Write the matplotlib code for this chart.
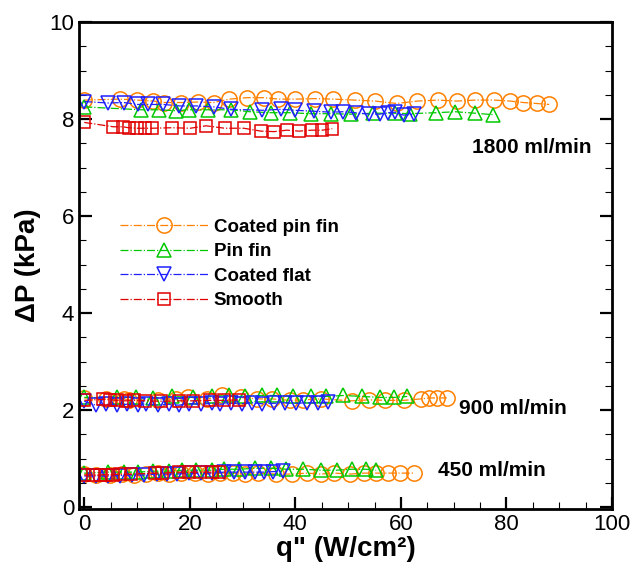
import matplotlib
matplotlib.use("Agg")
import matplotlib.pyplot as plt
from matplotlib.ticker import MultipleLocator

plt.rcParams['font.family'] = ['Liberation Sans', 'DejaVu Sans']

# ---------------- data ----------------
# 1800 ml/min
cpf_1800_x = [0, 6.8, 10.0, 13.1, 15.2, 18.4, 21.5, 24.5, 27.5, 30.8, 34.0, 36.8, 40.0, 43.8, 47.2,
              51.3, 55.1, 59.2, 63.1, 67.1, 70.6, 74.0, 77.7, 80.7, 83.2, 85.7, 88.1]
cpf_1800_y = [8.39, 8.41, 8.39, 8.37, 8.34, 8.34, 8.35, 8.34, 8.41, 8.44, 8.44, 8.41, 8.41, 8.42, 8.41,
              8.39, 8.37, 8.32, 8.37, 8.39, 8.37, 8.39, 8.39, 8.37, 8.34, 8.32, 8.30]
pf_1800_x = [0, 10.8, 14.1, 17.4, 19.9, 23.5, 27.8, 31.4, 35.3, 38.9, 42.9, 46.8, 50.5, 54.8, 58.9,
             61.7, 66.7, 70.3, 74.0, 77.4]
pf_1800_y = [8.25, 8.19, 8.19, 8.17, 8.19, 8.19, 8.19, 8.15, 8.13, 8.13, 8.11, 8.11, 8.10, 8.12, 8.12,
             8.11, 8.13, 8.15, 8.12, 8.09]
cf_1800_x = [0, 4.5, 7.5, 10.1, 12.1, 15.0, 18.0, 21.2, 24.5, 27.8, 33.7, 37.3, 39.9, 43.5, 46.8,
             49.1, 51.4, 54.0, 56.0, 57.6, 58.9, 60.5, 62.4]
cf_1800_y = [8.36, 8.33, 8.34, 8.30, 8.30, 8.30, 8.27, 8.27, 8.25, 8.20, 8.18, 8.20, 8.18, 8.16, 8.14,
             8.15, 8.13, 8.10, 8.10, 8.13, 8.14, 8.08, 8.10]
sm_1800_x = [0, 5.5, 7.3, 8.4, 10.0, 11.6, 12.9, 16.6, 20.1, 23.1, 26.6, 30.2, 33.5, 36.0, 38.4,
             40.7, 43.1, 45.1, 47.0]
sm_1800_y = [7.93, 7.84, 7.84, 7.82, 7.81, 7.81, 7.81, 7.82, 7.81, 7.86, 7.81, 7.81, 7.75, 7.74, 7.77,
             7.75, 7.77, 7.77, 7.80]

# 900 ml/min
cpf_900_x = [0, 4.2, 7.5, 8.4, 14.0, 17.3, 19.6, 23.2, 26.1, 29.7, 32.7, 35.6, 38.9, 41.5, 44.8,
             50.7, 54.0, 56.9, 60.5, 63.8, 65.4, 66.8, 68.7]
cpf_900_y = [2.25, 2.23, 2.23, 2.21, 2.21, 2.23, 2.27, 2.22, 2.32, 2.26, 2.23, 2.23, 2.20, 2.21, 2.23,
             2.19, 2.21, 2.20, 2.20, 2.23, 2.25, 2.25, 2.25]
pf_900_x = [0, 6.2, 9.8, 13.1, 16.7, 20.6, 24.2, 27.5, 30.4, 33.7, 36.6, 39.6, 42.9, 45.8, 49.1,
            52.7, 56.0, 58.6, 61.2]
pf_900_y = [2.26, 2.26, 2.26, 2.25, 2.28, 2.26, 2.28, 2.30, 2.28, 2.30, 2.30, 2.28, 2.28, 2.28, 2.30,
            2.28, 2.26, 2.26, 2.28]
cf_900_x = [0, 2.2, 4.2, 6.2, 8.1, 10.1, 11.7, 14.0, 16.0, 17.9, 19.9, 22.2, 24.2, 25.8, 27.8,
            29.8, 31.7, 33.7, 36.0, 38.0, 40.2, 42.2, 44.2, 46.1]
cf_900_y = [2.18, 2.10, 2.12, 2.10, 2.12, 2.10, 2.13, 2.10, 2.12, 2.10, 2.13, 2.12, 2.14, 2.12, 2.14,
            2.13, 2.15, 2.13, 2.14, 2.15, 2.14, 2.15, 2.15, 2.16]
sm_900_x = [0, 3.6, 4.9, 6.2, 7.9, 9.5, 11.5, 14.6, 17.9, 20.6, 23.9, 26.5, 29.4]
sm_900_y = [2.20, 2.22, 2.21, 2.20, 2.19, 2.20, 2.19, 2.18, 2.19, 2.19, 2.20, 2.20, 2.21]

# 450 ml/min
cpf_450_x = [0, 2.2, 4.9, 7.1, 9.4, 11.7, 14.0, 16.0, 18.3, 20.9, 23.5, 25.8, 28.1, 30.4, 33.0,
             36.3, 39.3, 42.2, 44.8, 47.4, 50.4, 53.0, 55.3, 57.6, 59.9, 62.5]
cpf_450_y = [0.68, 0.66, 0.66, 0.68, 0.66, 0.68, 0.70, 0.68, 0.70, 0.70, 0.68, 0.70, 0.70, 0.68, 0.70,
             0.68, 0.68, 0.70, 0.68, 0.70, 0.68, 0.70, 0.70, 0.70, 0.70, 0.70]
pf_450_x = [0, 4.5, 7.5, 10.1, 13.0, 16.0, 18.6, 21.2, 24.2, 26.5, 29.4, 32.4, 35.3, 38.3, 41.5,
            44.8, 47.8, 50.7, 53.3, 55.3]
pf_450_y = [0.70, 0.72, 0.72, 0.72, 0.74, 0.74, 0.76, 0.76, 0.76, 0.78, 0.78, 0.80, 0.80, 0.78, 0.78,
            0.76, 0.76, 0.78, 0.78, 0.76]
cf_450_x = [0, 2.2, 4.5, 6.8, 9.1, 11.4, 13.7, 15.7, 17.6, 19.9, 22.2, 24.2, 26.5, 28.4, 30.4,
            32.4, 34.0, 35.7, 37.6]
cf_450_y = [0.64, 0.64, 0.64, 0.65, 0.66, 0.66, 0.68, 0.68, 0.68, 0.70, 0.70, 0.70, 0.72, 0.72, 0.72,
            0.72, 0.72, 0.73, 0.74]
sm_450_x = [0, 1.6, 2.9, 4.2, 5.5, 6.8, 8.8, 13.4, 14.7, 18.0, 19.9, 21.9, 24.2, 25.5]
sm_450_y = [0.66, 0.66, 0.66, 0.67, 0.67, 0.68, 0.68, 0.70, 0.70, 0.72, 0.72, 0.72, 0.72, 0.73]

labels = ["Coated pin fin", "Pin fin", "Coated flat", "Smooth"]
flow_labels = ["1800 ml/min", "900 ml/min", "450 ml/min"]
flow_label_pos = [(73.5, 7.42), (71.0, 2.03), (67.0, 0.76)]

# ---------------- plot ----------------
fig = plt.figure(figsize=(6.41, 5.71), dpi=100)
ax = fig.add_axes([79/641, 1-509/571, (612-79)/641, (509-22)/571])

styles = [
    dict(color='#FF8000', marker='o', ms=11),
    dict(color='#00C800', marker='^', ms=10),
    dict(color='#2020FF', marker='v', ms=10),
    dict(color='#E00000', marker='s', ms=8),
]
groups = [
    [(cpf_1800_x, cpf_1800_y), (cpf_900_x, cpf_900_y), (cpf_450_x, cpf_450_y)],
    [(pf_1800_x, pf_1800_y), (pf_900_x, pf_900_y), (pf_450_x, pf_450_y)],
    [(cf_1800_x, cf_1800_y), (cf_900_x, cf_900_y), (cf_450_x, cf_450_y)],
    [(sm_1800_x, sm_1800_y), (sm_900_x, sm_900_y), (sm_450_x, sm_450_y)],
]
handles = []
for st, grp, lab in zip(styles, groups, labels):
    for i, (xs, ys) in enumerate(grp):
        h, = ax.plot(xs, ys, linestyle='-.', linewidth=0.9, color=st['color'],
                     marker=st['marker'], markersize=st['ms'], markerfacecolor='none',
                     markeredgecolor=st['color'], markeredgewidth=1.1,
                     label=lab if i == 0 else None)
        if i == 0:
            handles.append(h)

for txt, (tx, ty) in zip(flow_labels, flow_label_pos):
    ax.text(tx, ty, txt, fontsize=15, fontweight='bold', ha='left', va='center')

ax.set_xlim(-1, 100)
ax.set_ylim(-0.04, 10)
ax.xaxis.set_major_locator(MultipleLocator(20))
ax.xaxis.set_minor_locator(MultipleLocator(5))
ax.yaxis.set_major_locator(MultipleLocator(2))
ax.yaxis.set_minor_locator(MultipleLocator(0.5))
ax.tick_params(which='both', direction='in', top=False, right=True, labelsize=16)
ax.tick_params(which='major', length=9, width=1.6)
ax.tick_params(which='minor', length=5, width=0.8)
for s in ax.spines.values():
    s.set_linewidth(2)

ax.set_xlabel('q" (W/cm²)', fontsize=20, fontweight='bold', labelpad=1)
ax.set_ylabel('ΔP (kPa)', fontsize=20, fontweight='bold', labelpad=6)

leg = ax.legend(handles=handles, loc='upper left', bbox_to_anchor=(0.063, 0.612),
                frameon=False, prop={'weight': 'bold', 'size': 13.5},
                handlelength=4.7, handletextpad=0.3, labelspacing=0.4, borderaxespad=0)

fig.savefig('out.png', dpi=100)
